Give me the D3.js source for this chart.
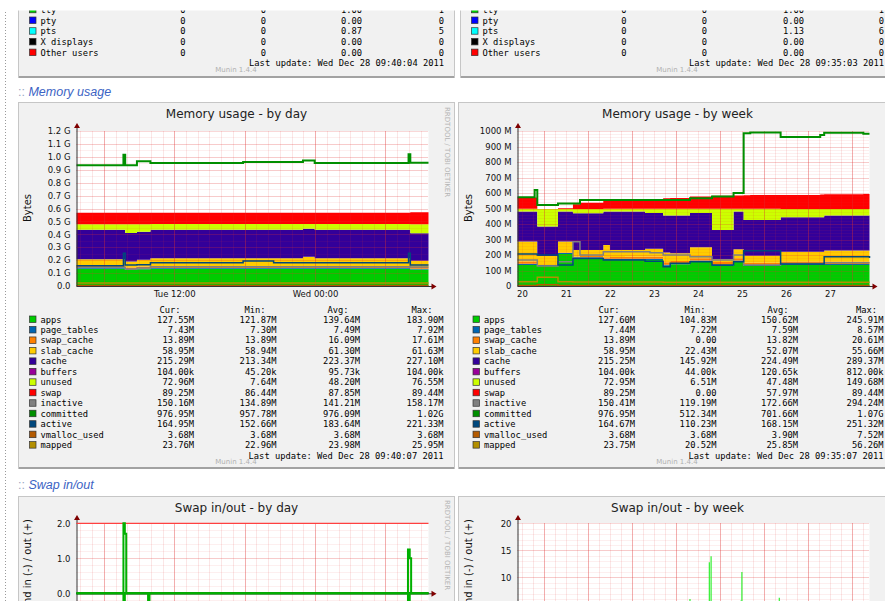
<!DOCTYPE html>
<html>
<head>
<meta charset="utf-8">
<script src="https://cdn.jsdelivr.net/npm/d3@7"></script>
<style>
  body { margin: 0; background: #fff; }
  svg { display: block; }
  text { font-family: "DejaVu Sans", sans-serif; }
  .mono text { font-family: "DejaVu Sans Mono", monospace; font-size: 8.75px; }
</style>
</head>
<body>
<svg id="page" width="885" height="601"></svg>
<script>
// ---------- data ----------
const stackKeys = ["apps", "page_tables", "swap_cache", "slab_cache", "cache", "buffers", "unused", "swap"];
const lineKeys = ["inactive", "committed", "active", "vmalloc_used", "mapped"];
const legendNames = ["apps", "page_tables", "swap_cache", "slab_cache", "cache", "buffers", "unused",
  "swap", "inactive", "committed", "active", "vmalloc_used", "mapped"];

// day graph: hours since start, values in MiB
const dayHours     = [0, 4.0, 4.15, 5.15, 6.3, 14.2, 16.8, 19.3, 20.3, 28.3, 28.45, 30];
const dayApps      = [136, 136, 126, 132, 136, 136, 136, 136, 136, 136, 130, 130];
const dayPageTables= [7.4, 7.4, 7.3, 7.4, 7.5, 7.5, 7.5, 7.5, 7.5, 7.5, 7.4, 7.4];
const daySwapCache = [15, 15, 14, 15, 16, 16, 16, 16, 16, 16, 14, 14];
const daySlabCache = [54, 54, 46, 54, 60, 60, 60, 72, 60, 60, 49, 49];
const dayCache     = [234, 234, 227, 222, 227, 227, 227, 223, 227, 227, 217, 217];
const dayBuffers   = [0.1, 0.1, 0.05, 0.1, 0.1, 0.1, 0.1, 0.1, 0.1, 0.1, 0.1, 0.1];
const dayUnused    = [44, 44, 70, 60, 44, 44, 44, 36, 44, 44, 73, 73];
const daySwap      = [90, 90, 90, 90, 90, 90, 90, 90, 90, 90, 94, 94];
const dayInactive  = [148, 148, 135, 143, 152, 152, 152, 152, 152, 152, 150, 150];
const dayCommitted = [958, 1040, 958, 988, 976, 984, 984, 995, 976, 1045, 977, 977];
const dayActive    = [161, 259, 166, 168, 185, 198, 185, 185, 185, 259, 166, 166];
const dayVmalloc   = [3.68, 3.68, 3.68, 3.68, 3.68, 3.68, 3.68, 3.68, 3.68, 3.68, 3.68, 3.68];
const dayMapped    = [24, 24, 23, 24, 24, 24, 24, 24, 24, 24, 24, 24];

// week graph: days since start, values in MiB
const weekDays      = [0, 0.39, 0.45, 0.92, 1.26, 1.42, 1.95, 2.1, 2.44, 2.9, 3.01, 3.31, 3.47, 3.92, 4.42, 4.91, 5.14, 5.29, 5.98, 6.88, 6.97, 7.86, 8];
const weekApps      = [135, 135, 129, 206, 178, 178, 168, 168, 168, 168, 168, 130, 140, 157, 129, 157, 129, 129, 135, 135, 135, 135, 135];
const weekPageTables= [8.4, 8.4, 7.2, 7.3, 7.4, 7.4, 7.5, 7.5, 7.5, 7.5, 7.5, 7.5, 7.5, 7.5, 7.5, 7.5, 7.5, 7.5, 7.4, 7.4, 7.4, 7.4, 7.4];
const weekSwapCache = [14, 14, 0, 2, 5, 8, 10, 12, 14, 15, 15, 16, 14, 14, 18, 14, 14, 14, 14, 14, 14, 14, 14];
const weekSlabCache = [129, 129, 58, 71, 42, 39, 79, 45, 43, 50, 50, 62, 50, 72, 18, 59, 44, 44, 65, 65, 72, 72, 72];
const weekCache     = [194, 194, 189, 194, 237, 237, 216, 248, 248, 230, 230, 239, 243, 220, 189, 243, 232, 232, 222, 222, 226, 226, 226];
const weekBuffers   = [0.8, 0.8, 0.05, 0.1, 0.1, 0.1, 0.1, 0.1, 0.1, 0.1, 0.1, 0.1, 0.1, 0.1, 0.1, 0.1, 0.1, 0.1, 0.1, 0.1, 0.1, 0.1, 0.1];
const weekUnused    = [17, 17, 114, 17, 28, 28, 17, 17, 17, 27, 27, 43, 43, 27, 136, 17, 71, 71, 54, 54, 43, 43, 43];
const weekSwap      = [73, 73, 0, 5, 30, 40, 55, 58, 60, 62, 64, 68, 70, 80, 84, 86, 88, 89, 90, 93, 94, 96, 96];
const weekInactive  = [168, 168, 129, 157, 286, 200, 221, 221, 221, 221, 215, 200, 200, 189, 168, 200, 135, 135, 145, 145, 150, 150, 150];
const weekCommitted = [572, 619, 523, 533, 533, 555, 555, 555, 555, 555, 555, 555, 555, 566, 578, 600, 985, 991, 962, 975, 989, 982, 982];
const weekActive    = [206, 206, 200, 135, 178, 178, 168, 168, 168, 160, 160, 125, 146, 157, 135, 157, 228, 228, 142, 142, 189, 189, 180];
const weekVmalloc   = [3.7, 3.7, 7.5, 3.7, 3.7, 3.7, 3.7, 3.7, 3.7, 3.7, 3.7, 3.7, 3.7, 3.7, 3.7, 3.7, 3.7, 3.7, 3.7, 3.7, 3.7, 3.7, 3.7];
const weekMapped    = [28, 28, 56, 28, 26, 26, 26, 26, 26, 26, 26, 24, 24, 24, 24, 24, 24, 24, 24, 24, 24, 24, 24];

// legend tables
const dayCur  = ["127.55M", "7.43M", "13.89M", "58.95M", "215.29M", "104.00k", "72.96M", "89.25M", "150.16M", "976.95M", "164.95M", "3.68M", "23.76M"];
const dayMin  = ["121.87M", "7.30M", "13.89M", "58.94M", "213.34M", "45.20k", "7.64M", "86.44M", "134.89M", "957.78M", "152.66M", "3.68M", "22.96M"];
const dayAvg  = ["139.64M", "7.49M", "16.09M", "61.30M", "223.37M", "95.73k", "48.20M", "87.85M", "141.21M", "976.09M", "183.64M", "3.68M", "23.98M"];
const dayMax  = ["183.90M", "7.92M", "17.61M", "61.63M", "227.10M", "104.00k", "76.55M", "89.44M", "158.17M", "1.02G", "221.33M", "3.68M", "25.95M"];
const weekCur = ["127.60M", "7.44M", "13.89M", "58.95M", "215.25M", "104.00k", "72.95M", "89.25M", "150.41M", "976.95M", "164.67M", "3.68M", "23.75M"];
const weekMin = ["104.83M", "7.22M", "0.00", "22.43M", "145.92M", "44.00k", "6.51M", "0.00", "119.19M", "512.34M", "110.23M", "3.68M", "20.52M"];
const weekAvg = ["150.62M", "7.59M", "13.82M", "52.07M", "224.49M", "120.65k", "47.48M", "57.97M", "172.66M", "701.66M", "168.15M", "3.90M", "25.85M"];
const weekMax = ["245.91M", "8.57M", "20.61M", "55.66M", "289.37M", "812.00k", "149.68M", "89.44M", "294.24M", "1.07G", "251.32M", "7.52M", "56.26M"];

// users graph (top, mostly scrolled away)
const userNames = ["tty", "pty", "pts", "X displays", "Other users"];
const usersDayCols  = [["0", "0", "0", "0", "0"], ["0", "0", "0", "0", "0"], ["1.00", "0.00", "0.87", "0.00", "0.00"], ["1", "0", "5", "0", "0"]];
const usersWeekCols = [["0", "0", "0", "0", "0"], ["0", "0", "0", "0", "0"], ["1.00", "0.00", "1.13", "0.00", "0.00"], ["1", "0", "6", "0", "0"]];

// swap graphs
const swapDayHours = [0, 4.0, 4.12, 4.24, 6.1, 6.22, 28.25, 28.4, 28.52, 30];
const swapDayOut   = [0, 2.0, 1.7, 0, 0, 0, 1.25, 1.0, 0, 0];
const swapDayIn    = [0, 0.3, 0, 0, 1.5, 0, 0.3, 0, 0, 0];
const swapWeekDays = [3.92, 4.36, 4.40, 5.08, 5.10, 5.95];
const swapWeekOut  = [6, 12.8, 13.9, 5.7, 11, 6.2];

const dayYTicksG   = [0, 0.1, 0.2, 0.3, 0.4, 0.5, 0.6, 0.7, 0.8, 0.9, 1.0, 1.1, 1.2];
const weekYTicksM  = [0, 100, 200, 300, 400, 500, 600, 700, 800, 900, 1000];
const weekLabelDays = [20, 21, 22, 23, 24, 25, 26, 27];

// ---------- styles ----------
const colors = {
  apps: "#00CC00", page_tables: "#0066B3", swap_cache: "#FF8000", slab_cache: "#FFCC00",
  cache: "#330099", buffers: "#990099", unused: "#CCFF00", swap: "#FF0000",
  inactive: "#808080", committed: "#008F00", active: "#00487D", vmalloc_used: "#B35A00", mapped: "#B38F00"
};
const userColors = ["#00CC00", "#0000FF", "#00FFFF", "#000000", "#FF0000"];
const MINOR = "rgba(222,48,48,0.16)", MAJOR = "rgba(222,48,48,0.38)";
const V_MINOR = "rgba(222,48,48,0.12)", V_MAJOR = "rgba(222,48,48,0.3)";
const PLOT_W = 352, TOP = 131, BOTTOM = 286;

const dayStart = new Date(2011, 11, 27, 3, 40, 7), dayEnd = new Date(2011, 11, 28, 9, 40, 7);
const weekStart = new Date(2011, 11, 20, 9, 35, 7), weekEnd = new Date(2011, 11, 28, 9, 35, 7);
const addHours = (d, h) => new Date(+d + h * 3600e3);

const svg = d3.select("#page");

// ---------- helpers ----------
function panel(x, y, w, h) {
  svg.append("rect").attr("x", x + 0.5).attr("y", y + 0.5).attr("width", w).attr("height", h)
    .attr("fill", "#f1f1f1").attr("stroke", "#c6c6c6");
  svg.append("line").attr("x1", x + 1).attr("x2", x + w).attr("y1", y + h).attr("y2", y + h)
    .attr("stroke", "#a2a2a2").attr("stroke-width", 2);
}

function heading(y, label) {
  const t = svg.append("text").attr("x", 18).attr("y", y)
    .style("font-family", "'Liberation Sans', Arial, sans-serif").style("font-size", "12.5px");
  t.append("tspan").attr("fill", "#9aa8c4").text(":: ");
  t.append("tspan").attr("fill", "#3b63c4").attr("font-style", "italic").text(label);
}

function grid(g, x, y, box, xMinor, xMajor, yMinor, yMajor) {
  const vl = (data, color) => g.append("g").selectAll("line").data(data).join("line")
    .attr("x1", d => Math.round(x(d)) + 0.5).attr("x2", d => Math.round(x(d)) + 0.5)
    .attr("y1", box.top).attr("y2", box.bottom)
    .attr("stroke", color);
  const hl = (data, color) => g.append("g").selectAll("line").data(data).join("line")
    .attr("x1", box.left).attr("x2", box.right)
    .attr("y1", d => Math.round(y(d)) + 0.5).attr("y2", d => Math.round(y(d)) + 0.5)
    .attr("stroke", color).attr("stroke-dasharray", "1,1");
  vl(xMinor, V_MINOR); hl(yMinor, MINOR);
  vl(xMajor, V_MAJOR); hl(yMajor, MAJOR);
}

function frame(g, box) {
  g.append("line").attr("x1", box.left + 0.5).attr("x2", box.left + 0.5)
    .attr("y1", box.top - 4).attr("y2", box.bottom).attr("stroke", "#333");
  g.append("line").attr("x1", box.left).attr("x2", box.right + 4)
    .attr("y1", box.axisY + 0.5).attr("y2", box.axisY + 0.5).attr("stroke", "#333");
  g.append("path").attr("fill", "#7f0000")
    .attr("d", `M${box.left - 2.5},${box.top - 3}L${box.left + 3.5},${box.top - 3}L${box.left + 0.5},${box.top - 8}Z`);
  g.append("path").attr("fill", "#7f0000")
    .attr("d", `M${box.right + 3},${box.axisY - 2.5}L${box.right + 3},${box.axisY + 3.5}L${box.right + 8},${box.axisY + 0.5}Z`);
}

function styleAxis(a) {
  a.select(".domain").remove();
  a.selectAll("text").attr("fill", "#111").style("font-family", "'DejaVu Sans', sans-serif").style("font-size", "8.5px");
}

function watermark(px0, y) {
  // only drawn where it falls inside the page
  if (px0 + 372 > 885) return;
  svg.append("text").attr("transform", `translate(${px0 + 368},${y}) rotate(90)`)
    .attr("fill", "#b4b4b4").style("font-size", "7px").text("RRDTOOL / TOBI OETIKER");
}

function memChart(c) {
  const box = { left: c.px0, right: c.px0 + PLOT_W, top: TOP, bottom: BOTTOM, axisY: BOTTOM };
  const x = d3.scaleTime().domain([c.start, c.end]).range([box.left, box.right]);
  const y = d3.scaleLinear().domain([0, c.yMax]).range([BOTTOM, TOP]);
  const g = svg.append("g");
  g.append("rect").attr("x", box.left).attr("y", TOP).attr("width", PLOT_W).attr("height", BOTTOM - TOP).attr("fill", "#fff");

  const rows = c.times.map((t, i) => {
    const r = { t };
    Object.keys(c.values).forEach(k => { r[k] = c.values[k][i]; });
    return r;
  });
  const layers = d3.stack().keys(stackKeys)(rows);
  const area = d3.area().curve(d3.curveStepAfter)
    .x(d => x(d.data.t)).y0(d => y(d[0])).y1(d => y(d[1]));
  g.append("g").selectAll("path").data(layers).join("path")
    .attr("fill", d => colors[d.key]).attr("d", area);

  grid(g, x, y, box, c.xMinor, c.xMajor, c.yMinor, c.yMajor);

  lineKeys.forEach(k => {
    const line = d3.line().curve(d3.curveStepAfter).x(d => x(d.t)).y(d => y(d[k]));
    g.append("path").datum(rows).attr("fill", "none").attr("stroke", colors[k])
      .attr("stroke-width", k === "committed" ? 2 : 1.5).attr("d", line);
  });

  frame(g, box);

  const ax = g.append("g").attr("transform", `translate(0,${BOTTOM})`)
    .call(d3.axisBottom(x).tickValues(c.xLabels).tickFormat(c.xFormat).tickSize(0).tickPadding(5));
  styleAxis(ax);
  const ay = g.append("g").attr("transform", `translate(${box.left},0)`)
    .call(d3.axisLeft(y).tickValues(c.yMajor).tickFormat(c.yFormat).tickSize(0).tickPadding(6));
  styleAxis(ay);

  svg.append("text").attr("x", c.px0 + 160).attr("y", 118).attr("text-anchor", "middle")
    .attr("fill", "#222").style("font-size", "12px").text(c.title);
  svg.append("text").attr("transform", `translate(${c.px0 - 46},208) rotate(-90)`)
    .attr("text-anchor", "middle").attr("fill", "#111").style("font-size", "10px").text("Bytes");
  watermark(c.px0, 107);
}

function legend(c) {
  const g = svg.append("g").attr("class", "mono");
  ["Cur:", "Min:", "Avg:", "Max:"].forEach((h, i) => {
    g.append("text").attr("x", c.headX[i]).attr("y", 312.5).attr("text-anchor", "middle").attr("fill", "#000").text(h);
  });
  const rowY = i => 322.5 + i * 10.47;
  g.selectAll("rect").data(legendNames).join("rect")
    .attr("x", c.sqX).attr("y", (d, i) => rowY(i) - 6.5).attr("width", 6.5).attr("height", 6.5)
    .attr("fill", d => colors[d]).attr("stroke", "#333").attr("stroke-width", 0.7);
  g.selectAll(".nm").data(legendNames).join("text").attr("class", "nm")
    .attr("x", c.sqX + 11).attr("y", (d, i) => rowY(i)).attr("fill", "#000").text(d => d);
  c.cols.forEach((col, j) => {
    g.append("g").selectAll("text").data(col).join("text")
      .attr("x", c.colRight[j]).attr("y", (d, i) => rowY(i)).attr("text-anchor", "end").attr("fill", "#000").text(d => d);
  });
  g.append("text").attr("x", c.colRight[3]).attr("y", 459).attr("text-anchor", "end").attr("fill", "#000").text(c.update);
  svg.append("text").attr("x", c.muninX).attr("y", 464).attr("text-anchor", "middle").attr("fill", "#b0b0b0")
    .style("font-size", "7px").text("Munin 1.4.4");
}

function usersBlock(c) {
  const g = svg.append("g").attr("class", "mono");
  const rowY = i => 12.5 + (i - 1) * 10.7 + 11;
  g.selectAll("rect").data(userNames).join("rect")
    .attr("x", c.sqX).attr("y", (d, i) => rowY(i) - 6.5).attr("width", 6.5).attr("height", 6.5)
    .attr("fill", (d, i) => userColors[i]).attr("stroke", "#333").attr("stroke-width", 0.7);
  g.selectAll(".nm").data(userNames).join("text").attr("class", "nm")
    .attr("x", c.sqX + 11).attr("y", (d, i) => rowY(i)).attr("fill", "#000").text(d => d);
  c.cols.forEach((col, j) => {
    g.append("g").selectAll("text").data(col).join("text")
      .attr("x", c.colRight[j]).attr("y", (d, i) => rowY(i)).attr("text-anchor", "end").attr("fill", "#000").text(d => d);
  });
  g.append("text").attr("x", c.colRight[3]).attr("y", 66).attr("text-anchor", "end").attr("fill", "#000").text(c.update);
  svg.append("text").attr("x", c.muninX).attr("y", 72).attr("text-anchor", "middle").attr("fill", "#b0b0b0")
    .style("font-size", "7px").text("Munin 1.4.4");
}

// ---------- page ----------
svg.append("line").attr("x1", 5.5).attr("x2", 5.5).attr("y1", 12).attr("y2", 601)
  .attr("stroke", "#9a9a9a").attr("stroke-dasharray", "1,2");

// users panels (top)
panel(18, -40, 436, 117);
panel(460, -40, 440, 117);
usersBlock({ sqX: 29.5, cols: usersDayCols, colRight: [185.5, 266, 362, 444], update: "Last update: Wed Dec 28 09:40:04 2011", muninX: 236 });
usersBlock({ sqX: 471.5, cols: usersWeekCols, colRight: [626.5, 707, 804, 884], update: "Last update: Wed Dec 28 09:35:03 2011", muninX: 677 });
svg.append("rect").attr("x", 8).attr("y", 0).attr("width", 877).attr("height", 10.5).attr("fill", "#fff");

// memory usage
heading(96, "Memory usage");
panel(18, 102, 436, 366);
panel(458, 102, 440, 366);

const dayValues = {
  apps: dayApps, page_tables: dayPageTables, swap_cache: daySwapCache, slab_cache: daySlabCache,
  cache: dayCache, buffers: dayBuffers, unused: dayUnused, swap: daySwap,
  inactive: dayInactive, committed: dayCommitted, active: dayActive, vmalloc_used: dayVmalloc, mapped: dayMapped
};
const weekValues = {
  apps: weekApps, page_tables: weekPageTables, swap_cache: weekSwapCache, slab_cache: weekSlabCache,
  cache: weekCache, buffers: weekBuffers, unused: weekUnused, swap: weekSwap,
  inactive: weekInactive, committed: weekCommitted, active: weekActive, vmalloc_used: weekVmalloc, mapped: weekMapped
};

memChart({
  px0: 76.5, title: "Memory usage - by day", start: dayStart, end: dayEnd,
  times: dayHours.map(h => addHours(dayStart, h)), values: dayValues, yMax: 1.2 * 1024,
  xMinor: d3.timeHour.every(1).range(dayStart, dayEnd), xMajor: d3.timeHour.every(6).range(dayStart, dayEnd),
  xLabels: [new Date(2011, 11, 27, 12), new Date(2011, 11, 28, 0)], xFormat: d3.timeFormat("%a %H:%M"),
  yMajor: dayYTicksG.map(v => v * 1024), yMinor: d3.range(0, 24).map(i => i * 0.05 * 1024),
  yFormat: v => v === 0 ? "0.0" : (v / 1024).toFixed(1) + " G"
});
memChart({
  px0: 517.5, title: "Memory usage - by week", start: weekStart, end: weekEnd,
  times: weekDays.map(d => addHours(weekStart, d * 24)), values: weekValues, yMax: 1000,
  xMinor: d3.timeHour.every(6).range(weekStart, weekEnd), xMajor: d3.timeDay.range(weekStart, weekEnd),
  xLabels: weekLabelDays.map(d => new Date(2011, 11, d, 12)), xFormat: d3.timeFormat("%d"),
  yMajor: weekYTicksM, yMinor: d3.range(0, 1000, 20),
  yFormat: v => v === 0 ? "0" : v + " M"
});

legend({ sqX: 29.5, headX: [170, 255, 338, 422], colRight: [194, 276.5, 360, 443.5], cols: [dayCur, dayMin, dayAvg, dayMax],
  update: "Last update: Wed Dec 28 09:40:07 2011", muninX: 236 });
legend({ sqX: 473, headX: [609, 695, 778, 866.5], colRight: [635, 716.5, 798, 883.5], cols: [weekCur, weekMin, weekAvg, weekMax],
  update: "Last update: Wed Dec 28 09:35:07 2011", muninX: 677 });

// swap in/out
heading(489, "Swap in/out");
panel(18, 496, 436, 130);
panel(458, 496, 440, 130);

function swapChart(c) {
  const box = { left: c.px0, right: c.px0 + PLOT_W, top: 523, bottom: 640, axisY: c.y0 };
  const x = d3.scaleTime().domain([c.start, c.end]).range([box.left, box.right]);
  const y = d3.scaleLinear().domain([0, c.yTop]).range([c.y0, 523.3]);
  const g = svg.append("g");
  g.append("rect").attr("x", box.left).attr("y", box.top).attr("width", PLOT_W).attr("height", 120).attr("fill", "#fff");
  grid(g, x, y, box, c.xMinor, c.xMajor, c.yMinor, c.yMajor);
  frame(g, box);
  c.draw(g, x, y, box);
  const ay = g.append("g").attr("transform", `translate(${box.left},0)`)
    .call(d3.axisLeft(y).tickValues(c.yMajor.filter(v => v >= 0)).tickFormat(c.yFormat).tickSize(0).tickPadding(6));
  styleAxis(ay);
  svg.append("text").attr("x", c.px0 + 160).attr("y", 511.5).attr("text-anchor", "middle")
    .attr("fill", "#222").style("font-size", "12px").text(c.title);
  svg.append("text").attr("transform", `translate(${c.px0 - 46},519) rotate(-90)`)
    .attr("text-anchor", "end").attr("fill", "#111").style("font-size", "10px").text("pages per second in (-) / out (+)");
  watermark(c.px0, 500);
}

swapChart({
  px0: 76.5, title: "Swap in/out - by day", start: dayStart, end: dayEnd, y0: 593.3, yTop: 2,
  xMinor: d3.timeHour.every(1).range(dayStart, dayEnd), xMajor: d3.timeHour.every(6).range(dayStart, dayEnd),
  yMajor: [-1, 0, 1, 2], yMinor: d3.range(-1, 2, 0.2), yFormat: d3.format(".1f"),
  draw: (g, x, y, box) => {
    const pts = swapDayHours.map((h, i) => ({ t: addHours(dayStart, h), out: swapDayOut[i], inn: -swapDayIn[i] }));
    g.append("line").attr("x1", box.left).attr("x2", box.right).attr("y1", y(2)).attr("y2", y(2))
      .attr("stroke", "#ff4040").attr("stroke-width", 1.3);
    g.append("line").attr("x1", box.left).attr("x2", box.right).attr("y1", y(0)).attr("y2", y(0))
      .attr("stroke", "#000").attr("stroke-width", 2);
    ["out", "inn"].forEach(k => {
      g.append("path").datum(pts).attr("fill", "none").attr("stroke", "#00b000").attr("stroke-width", 2)
        .attr("d", d3.line().curve(d3.curveStepAfter).x(d => x(d.t)).y(d => y(d[k])));
    });
  }
});
swapChart({
  px0: 517.5, title: "Swap in/out - by week", start: weekStart, end: weekEnd, y0: 631.3, yTop: 20,
  xMinor: d3.timeHour.every(6).range(weekStart, weekEnd), xMajor: d3.timeDay.range(weekStart, weekEnd),
  yMajor: [0, 5, 10, 15, 20], yMinor: d3.range(0, 20, 1), yFormat: d3.format("d"),
  draw: (g, x, y) => {
    g.append("g").selectAll("line").data(swapWeekDays).join("line")
      .attr("x1", d => x(addHours(weekStart, d * 24)))
      .attr("x2", d => x(addHours(weekStart, d * 24)))
      .attr("y1", y(0)).attr("y2", (d, i) => y(swapWeekOut[i]))
      .attr("stroke", "#33f033").attr("stroke-width", 1.2);
  }
});
</script>
</body>
</html>
